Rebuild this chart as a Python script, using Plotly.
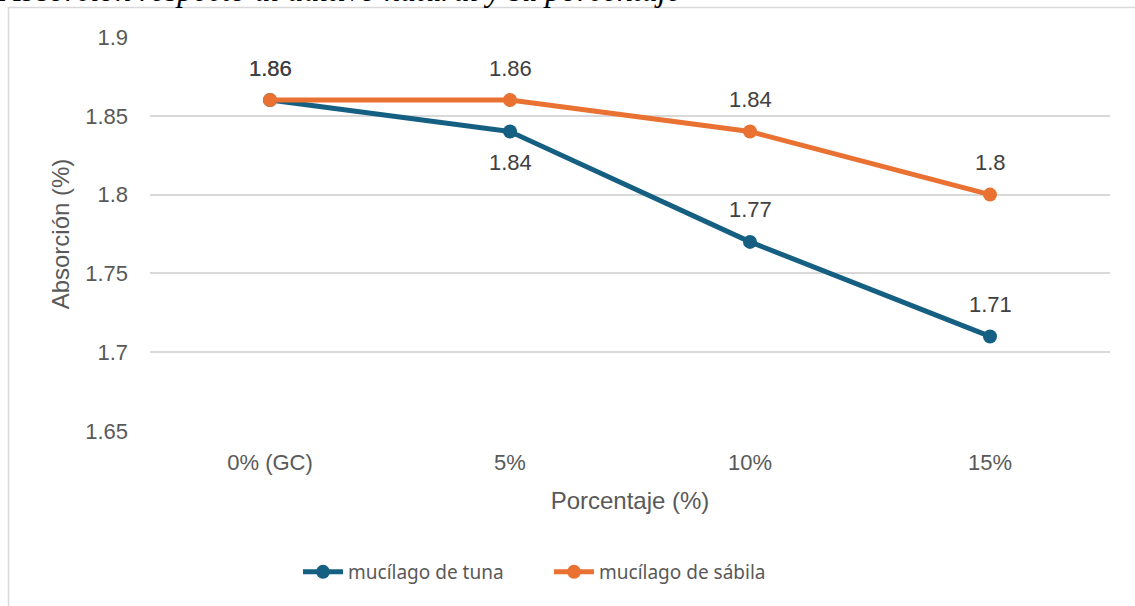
import plotly.graph_objects as go

categories = ["0% (GC)", "5%", "10%", "15%"]
tuna = [1.86, 1.84, 1.77, 1.71]
sabila = [1.86, 1.86, 1.84, 1.80]
tuna_label_pos = ["above", "below", "above", "above"]
sabila_label_pos = ["above", "above", "above", "above"]
y_ticks = [1.65, 1.7, 1.75, 1.8, 1.85, 1.9]
y_tick_labels = ["1.65", "1.7", "1.75", "1.8", "1.85", "1.9"]

BLUE = "#156082"
ORANGE = "#E97132"
W, H = 1135, 606
L, R, T, B = 150, 25, 37, 175
pw = W - L - R
ph = H - T - B

def px_x(p):
    return (p - L) / pw

def px_y(p):
    return (H - B - p) / ph

fig = go.Figure()
fig.add_trace(go.Scatter(
    x=categories, y=tuna, mode="lines+markers", name="mucílago de tuna",
    line=dict(color=BLUE, width=5), marker=dict(color=BLUE, size=14),
))
fig.add_trace(go.Scatter(
    x=categories, y=sabila, mode="lines+markers", name="mucílago de sábila",
    line=dict(color=ORANGE, width=5), marker=dict(color=ORANGE, size=14),
))

def fmt(v):
    return f"{v:.2f}".rstrip("0").rstrip(".")

annotations = []
for vals, poss in ((tuna, tuna_label_pos), (sabila, sabila_label_pos)):
    for c, v, p in zip(categories, vals, poss):
        annotations.append(dict(
            x=c, y=v, xref="x", yref="y", text=fmt(v), showarrow=False,
            yshift=32 if p == "above" else -31,
            font=dict(family="Liberation Sans, Arial", size=22, color="#404040"),
        ))

annotations.append(dict(
    x=px_x(-3), y=px_y(10), xref="paper", yref="paper", xanchor="left", yanchor="bottom",
    text="<i>Absorción respecto al aditivo natural y su porcentaje</i>", showarrow=False,
    font=dict(family="Liberation Serif, Times New Roman", size=32, color="#000000"),
))

fig.update_layout(
    width=W, height=H,
    margin=dict(l=L, r=R, t=T, b=B),
    paper_bgcolor="white", plot_bgcolor="white",
    annotations=annotations,
    shapes=[dict(type="rect", xref="paper", yref="paper",
                 x0=px_x(8.5), y0=px_y(7.5), x1=px_x(1145), y1=px_y(620),
                 line=dict(color="#d9d9d9", width=1.5), layer="below")],
    showlegend=True,
    legend=dict(orientation="h", x=px_x(549), y=px_y(572), xanchor="center", yanchor="middle",
                font=dict(family="Noto Sans, Liberation Sans", size=19, color="#595959"),
                itemwidth=40, entrywidth=196, tracegroupgap=0, bgcolor="rgba(0,0,0,0)"),
    xaxis=dict(
        type="category", range=[-0.5, 3.5], showgrid=False, showline=False, zeroline=False,
        tickfont=dict(family="Liberation Sans, Arial", size=22, color="#595959"),
        ticks="", ticklabelstandoff=16,
        title=dict(text="Porcentaje (%)", standoff=18,
                   font=dict(family="Liberation Sans, Arial", size=24, color="#595959")),
    ),
    yaxis=dict(
        range=[1.65, 1.9], tickvals=y_ticks, ticktext=y_tick_labels,
        showgrid=True, gridcolor="#d9d9d9", gridwidth=1.5, zeroline=False, showline=False,
        tickfont=dict(family="Liberation Sans, Arial", size=22, color="#595959"),
        ticks="", ticklabelstandoff=21,
        title=dict(text="Absorción (%)", standoff=8,
                   font=dict(family="Liberation Sans, Arial", size=24, color="#595959")),
    ),
)

fig.write_html("out.html", config={"displayModeBar": False},
               post_script="document.body.style.margin='0';document.body.style.overflow='hidden';")
